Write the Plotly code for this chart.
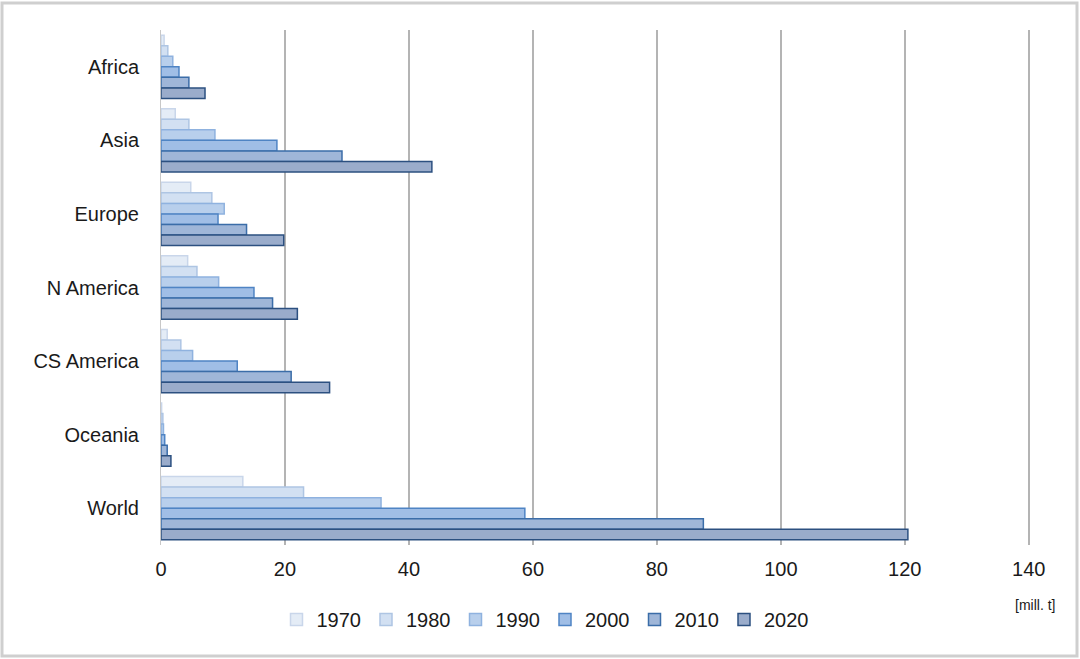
import plotly.graph_objects as go

regions = ["Africa", "Asia", "Europe", "N America", "CS America", "Oceania", "World"]
years = ["1970", "1980", "1990", "2000", "2010", "2020"]
v1970 = [0.5, 2.3, 4.8, 4.3, 1.0, 0.1, 13.2]
v1980 = [1.1, 4.5, 8.2, 5.8, 3.2, 0.3, 23.0]
v1990 = [1.9, 8.7, 10.2, 9.3, 5.1, 0.4, 35.5]
v2000 = [2.9, 18.7, 9.2, 15.0, 12.3, 0.6, 58.7]
v2010 = [4.5, 29.2, 13.8, 18.0, 21.0, 1.0, 87.5]
v2020 = [7.1, 43.7, 19.8, 22.0, 27.2, 1.6, 120.5]
series = [v1970, v1980, v1990, v2000, v2010, v2020]

fills = ["#e4ecf6", "#d2e0f2", "#b8cfec", "#a0bee6", "#9fb6d8", "#9aaccb"]
borders = ["#c9d6ea", "#aec5e3", "#8fb2df", "#4f84c4", "#3b6da8", "#2c5080"]

fig = go.Figure()
for yr, vals, fc, bc in zip(years, series, fills, borders):
    fig.add_trace(go.Bar(
        y=regions, x=vals, name=yr, orientation="h",
        marker=dict(color=fc, line=dict(color=bc, width=1.5)),
    ))

W, H = 1080, 659
ml, mr, mt, mb = 161, 50, 30, 114
pw, ph = W - ml - mr, H - mt - mb

def px(x):
    return (x - ml) / pw

def py(y):
    return 1 - (y - mt) / ph

fig.update_layout(
    width=W, height=H,
    margin=dict(l=ml, r=mr, t=mt, b=mb),
    paper_bgcolor="white", plot_bgcolor="white",
    barmode="group", bargap=0.14, bargroupgap=0,
    font=dict(family="Liberation Sans, Arial, sans-serif", color="#1a1a1a"),
    xaxis=dict(range=[0, 140.2], tickvals=[0, 20, 40, 60, 80, 100, 120, 140],
               showgrid=True, gridcolor="#b4b4b4",
               gridwidth=1.5, zeroline=False, showline=False,
               tickfont=dict(size=20), ticks="", ticklabelstandoff=10),
    yaxis=dict(autorange="reversed", showline=True, linecolor="#c8c8c8",
               linewidth=1, tickfont=dict(size=20), ticks="",
               ticklabelstandoff=17),
    legend=dict(orientation="h", x=px(545), xanchor="center", y=py(600),
                yanchor="top", font=dict(size=20), traceorder="normal",
                itemwidth=30, tracegroupgap=0),
    showlegend=True,
    annotations=[dict(text="[mill. t]", xref="paper", yref="paper",
                      x=px(1057), y=py(605), xanchor="right", yanchor="middle",
                      showarrow=False, font=dict(size=14, color="#1a1a1a"))],
    shapes=[dict(type="rect", xref="paper", yref="paper",
                 x0=px(2), x1=px(1077), y0=py(656), y1=py(3),
                 line=dict(color="#cfcfcf", width=3), fillcolor="rgba(0,0,0,0)",
                 layer="below")],
)

fig.write_html("out.html")
